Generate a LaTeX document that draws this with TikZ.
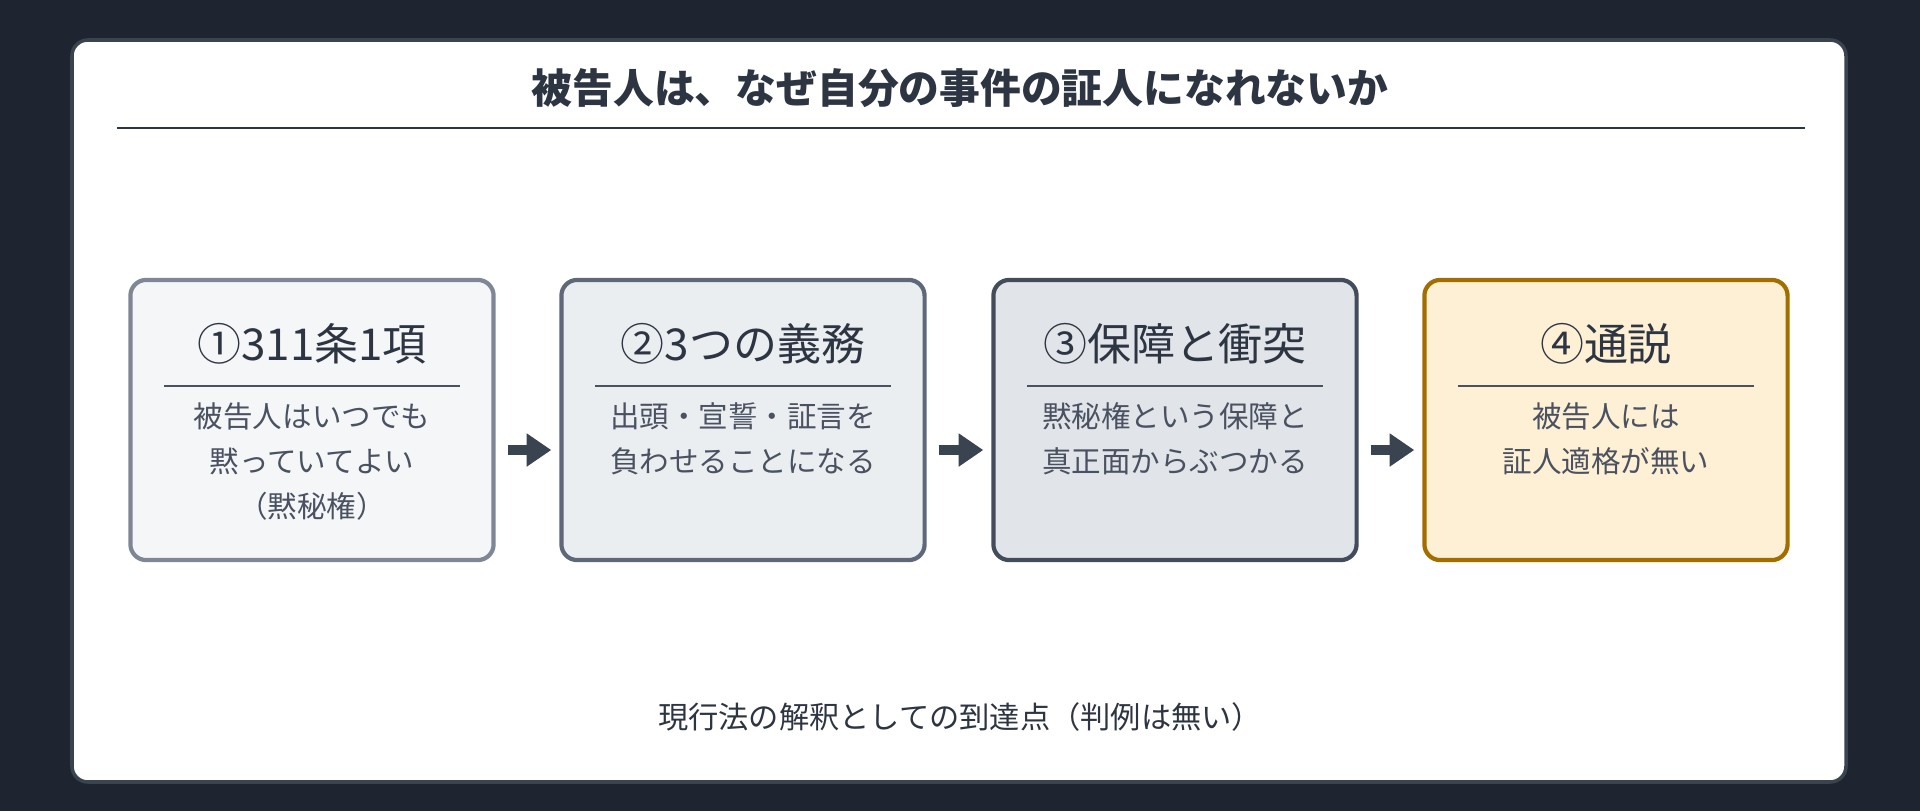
\documentclass[tikz,border=0pt]{standalone}
\usepackage{fontspec}
\setmainfont{Noto Sans CJK JP}
\usetikzlibrary{positioning,arrows.meta}
\definecolor{bgdark}{HTML}{1E2530}
\definecolor{frame}{HTML}{3A4450}
\definecolor{ink}{HTML}{2E3542}
\definecolor{body}{HTML}{4A5160}
\definecolor{fillA}{HTML}{F5F6F8}\definecolor{lineA}{HTML}{7F8796}
\definecolor{fillB}{HTML}{EBEEF1}\definecolor{lineB}{HTML}{5E6878}
\definecolor{fillC}{HTML}{E1E4E9}\definecolor{lineC}{HTML}{434C5B}
\definecolor{fillD}{HTML}{FDF0D5}\definecolor{lineD}{HTML}{A36E00}
\tikzset{
  stepbox/.style={draw, line width=1.2pt, rounded corners=4.5pt, minimum width=3.63cm, minimum height=2.8cm},
  head/.style={font=\fontsize{12.5}{14}\selectfont, text=ink},
  desc/.style={font=\fontsize{8.4}{12.8}\selectfont, text=body, align=center},
  flow/.style={-{Triangle[length=7pt,width=9pt]}, line width=2.6pt, draw=frame}
}
\begin{document}
\begin{tikzpicture}[x=0.01cm,y=0.01cm]
  \useasboundingbox (0,0) rectangle (1920,811);
  % background and card
  \fill[bgdark] (0,0) rectangle (1920,811);
  \draw[frame, fill=white, line width=1pt, rounded corners=4.5pt] (72,29) rectangle (1846,771);
  % title
  \node[font=\bfseries\fontsize{11.6}{14}\selectfont, text=ink] (title) at (960,723) {被告人は、なぜ自分の事件の証人になれないか};
  \draw[ink, line width=0.8pt] (117,683) -- (1805,683);
  % steps
  \node[stepbox, fill=fillA, draw=lineA] (s1) at (312,391) {};
  \node[stepbox, fill=fillB, draw=lineB] (s2) at (743,391) {};
  \node[stepbox, fill=fillC, draw=lineC] (s3) at (1175,391) {};
  \node[stepbox, fill=fillD, draw=lineD] (s4) at (1606,391) {};
  \foreach \n/\h/\t in {s1/①311条1項/{被告人はいつでも\\黙っていてよい\\（黙秘権）},
                        s2/②3つの義務/{出頭・宣誓・証言を\\負わせることになる},
                        s3/③保障と衝突/{黙秘権という保障と\\真正面からぶつかる},
                        s4/④通説/{被告人には\\証人適格が無い}}{
    \node[head] (\n h) at ([yshift=-0.66cm]\n.north) {\h};
    \draw[body, line width=0.6pt] ([xshift=-1.48cm,yshift=-1.08cm]\n.north) -- ([xshift=1.48cm,yshift=-1.08cm]\n.north);
    \node[desc, anchor=north] (\n d) at ([yshift=-1.12cm]\n.north) {\t};
  }
  % arrows
  \foreach \a/\b in {s1/s2, s2/s3, s3/s4}
    \draw[flow] ([xshift=0.12cm,yshift=-0.3cm]\a.east) -- ([xshift=-0.08cm,yshift=-0.3cm]\b.west);
  \node[font=\fontsize{8.6}{12}\selectfont, text=ink] (note) at (960,94) {現行法の解釈としての到達点（判例は無い）};
\end{tikzpicture}
\end{document}
